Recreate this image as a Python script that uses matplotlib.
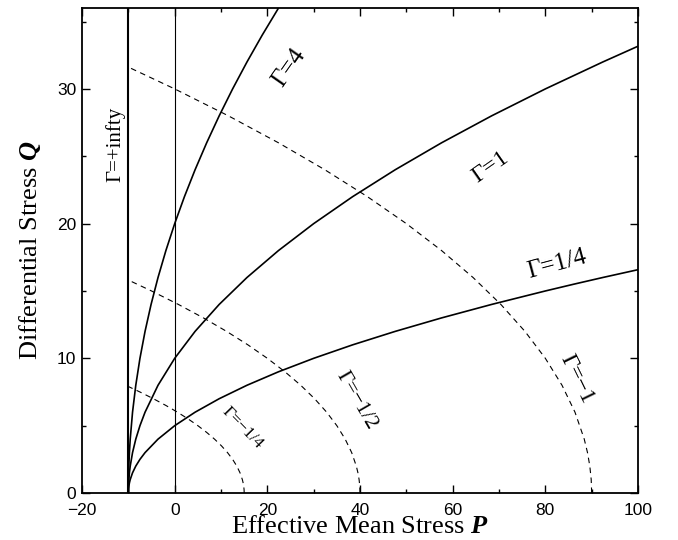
import matplotlib
matplotlib.use("Agg")
import matplotlib.pyplot as plt
from matplotlib.ticker import MultipleLocator

plt.rcParams['mathtext.fontset'] = 'custom'
plt.rcParams['mathtext.rm'] = 'Liberation Serif'
plt.rcParams['mathtext.it'] = 'Liberation Serif:italic'
plt.rcParams['mathtext.bf'] = 'Liberation Serif:bold'
plt.rcParams['mathtext.bfit'] = 'Liberation Serif:bold:italic'

# ---- data ----
# Gamma = +infinity (vertical line)
P_inf = [-10, -10]
Q_inf = [0, 36]

# Gamma = 4 (solid)
Q_g4 = [0, 1, 2, 3, 4, 6, 8, 10, 12, 14, 16, 18, 20, 22, 24, 26, 28, 30, 32, 34, 36]
P_g4 = [-10, -9.975, -9.9, -9.775, -9.6, -9.1, -8.4, -7.5, -6.4, -5.1, -3.6, -1.9,
        0, 2.1, 4.4, 6.9, 9.6, 12.5, 15.6, 18.9, 22.4]

# Gamma = 1 (solid)
Q_g1 = [0, 0.5, 1, 1.5, 2, 3, 4, 5, 6, 8, 10, 12, 14, 16, 18, 20, 22, 24, 26, 28, 30, 32, 33.17]
P_g1 = [-10, -9.975, -9.9, -9.775, -9.6, -9.1, -8.4, -7.5, -6.4, -3.6, 0, 4.4, 9.6, 15.6,
        22.4, 30, 38.4, 47.6, 57.6, 68.4, 80, 92.4, 100]

# Gamma = 1/4 (solid)
Q_g14 = [0, 0.25, 0.5, 0.75, 1, 1.5, 2, 2.5, 3, 4, 5, 6, 7, 8, 9, 10, 11, 12, 13, 14,
         15, 15.5, 16, 16.58]
P_g14 = [-10, -9.975, -9.9, -9.775, -9.6, -9.1, -8.4, -7.5, -6.4, -3.6, 0, 4.4, 9.6, 15.6,
         22.4, 30, 38.4, 47.6, 57.6, 68.4, 80, 86.1, 92.4, 100]

# Gamma = -1 (dashed)
Q_m1 = [0, 1, 2, 3, 4, 6, 8, 10, 12, 14, 16, 18, 20, 22, 24, 26, 28, 30, 31.62]
P_m1 = [90, 89.9, 89.6, 89.1, 88.4, 86.4, 83.6, 80, 75.6, 70.4, 64.4, 57.6, 50, 41.6,
        32.4, 22.4, 11.6, 0, -10]

# Gamma = -1/2 (dashed)
Q_m12 = [0, 0.5, 1, 1.5, 2, 3, 4, 5, 6, 7, 8, 9, 10, 11, 12, 13, 14, 15, 15.81]
P_m12 = [40, 39.95, 39.8, 39.55, 39.2, 38.2, 36.8, 35, 32.8, 30.2, 27.2, 23.8, 20, 15.8,
         11.2, 6.2, 0.8, -5, -10]

# Gamma = -1/4 (dashed)
Q_m14 = [0, 0.25, 0.5, 0.75, 1, 1.5, 2, 2.5, 3, 3.5, 4, 4.5, 5, 5.5, 6, 6.5, 7, 7.5, 7.906]
P_m14 = [15, 14.975, 14.9, 14.775, 14.6, 14.1, 13.4, 12.5, 11.4, 10.1, 8.6, 6.9, 5, 2.9,
         0.6, -1.9, -4.6, -7.5, -10]

x_ticks = [-20, 0, 20, 40, 60, 80, 100]
y_ticks = [0, 10, 20, 30]

# ---- figure ----
fig = plt.figure(figsize=(6.78, 5.40), dpi=100)
ax = fig.add_axes([0.121, 0.087, 0.820, 0.898])

ax.plot(P_inf, Q_inf, color='black', lw=1.5)
ax.axvline(0, color='black', lw=0.8)
for P, Q in [(P_g4, Q_g4), (P_g1, Q_g1), (P_g14, Q_g14)]:
    ax.plot(P, Q, color='black', lw=1.2, solid_capstyle='butt')
for P, Q in [(P_m1, Q_m1), (P_m12, Q_m12), (P_m14, Q_m14)]:
    ax.plot(P, Q, color='black', lw=0.8, dashes=(5, 4))

ax.set_xlim(-20, 100)
ax.set_ylim(0, 36)
ax.set_xticks(x_ticks)
ax.set_yticks(y_ticks)
ax.xaxis.set_minor_locator(MultipleLocator(10))
ax.yaxis.set_minor_locator(MultipleLocator(5))
ax.tick_params(which='both', direction='in', top=True, right=True, width=1.0)
ax.tick_params(which='major', length=6, labelsize=12.5, pad=4)
ax.tick_params(axis='x', which='major', pad=7)
ax.tick_params(which='minor', length=3)
for lab in ax.get_xticklabels() + ax.get_yticklabels():
    lab.set_family('Liberation Sans')
for s in ax.spines.values():
    s.set_linewidth(1.3)

ax.set_xlabel(r"Effective Mean Stress $\mathbfit{P}$", family='Liberation Serif',
              fontsize=19, labelpad=-1)
ax.set_ylabel(r"Differential Stress $\mathbfit{Q}$", family='Liberation Serif',
              fontsize=19, labelpad=10)

lab_kw = dict(family='Liberation Serif', ha='center', va='center')
ax.text(-12.9, 25.9, "Γ=+infty", rotation=90, fontsize=15, **lab_kw)
ax.text(24.8, 31.6, "Γ=4", rotation=55, fontsize=18, **lab_kw)
ax.text(68.2, 24.2, "Γ=1", rotation=35, fontsize=17.5, **lab_kw)
ax.text(82.4, 17.0, "Γ=1/4", rotation=15, fontsize=18, **lab_kw)
ax.text(86.7, 8.5, "Γ=−1", rotation=-64, fontsize=17, **lab_kw)
ax.text(39.1, 6.9, "Γ=−1/2", rotation=-60, fontsize=15.5, **lab_kw)
ax.text(14.7, 4.8, "Γ=−1/4", rotation=-46, fontsize=12.5, **lab_kw)

fig.savefig("out.png", dpi=100)
